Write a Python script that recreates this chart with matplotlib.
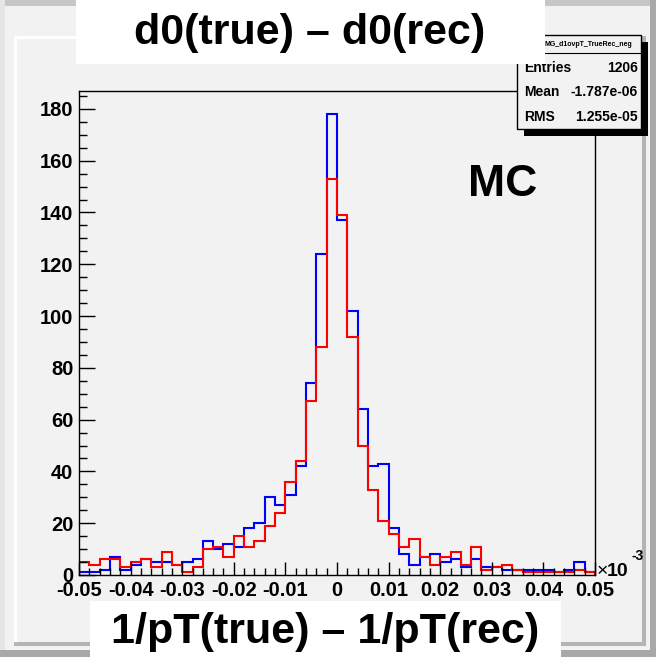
import numpy as np
import matplotlib
matplotlib.use('Agg')
import matplotlib.pyplot as plt
from matplotlib.patches import Rectangle

# Histogram contents (50 bins from -0.05 to 0.05, x10^-3)
bin_edges = np.linspace(-0.05, 0.05, 51)
mc_blue = [1, 1, 2, 7, 2, 4, 6, 5, 5, 4,
           5, 6, 13, 10, 12, 11, 18, 20, 30, 27,
           31, 42, 74, 124, 178, 137, 102, 64, 42, 43,
           18, 8, 4, 7, 8, 5, 6, 3, 6, 3,
           3, 2, 2, 2, 2, 2, 1, 2, 5, 1]
mc_red = [5, 4, 6, 6, 3, 5, 6, 3, 9, 4,
          1, 3, 10, 11, 7, 15, 11, 13, 19, 24,
          36, 44, 67, 88, 153, 139, 92, 50, 33, 21,
          16, 11, 14, 7, 4, 7, 9, 4, 11, 2,
          3, 4, 2, 1, 1, 1, 1, 1, 2, 1]

xticks = [-0.05, -0.04, -0.03, -0.02, -0.01, 0, 0.01, 0.02, 0.03, 0.04, 0.05]
xtick_labels = ['-0.05', '-0.04', '-0.03', '-0.02', '-0.01', '0',
                '0.01', '0.02', '0.03', '0.04', '0.05']
yticks = [0, 20, 40, 60, 80, 100, 120, 140, 160, 180]

stats_name = 'MG_d1ovpT_TrueRec_neg'
stats_rows = [('Entries', '1206'), ('Mean', '-1.787e-06'), ('RMS', '1.255e-05')]

plt.rcParams['font.family'] = ['Liberation Sans', 'DejaVu Sans']
plt.rcParams['font.weight'] = 'bold'

W, H = 656, 657
bg = '#f2f2f2'
fig = plt.figure(figsize=(W / 100, H / 100), dpi=100, facecolor=bg)


def px(x, y):
    # pixel coords (top-left origin) -> figure fraction
    return x / W, 1 - y / H


def rect(x0, y0, x1, y1, color, z=0, **kw):
    fx, fy = px(x0, y1)
    r = Rectangle((fx, fy), (x1 - x0) / W, (y1 - y0) / H, transform=fig.transFigure,
                  facecolor=color, edgecolor=kw.pop('ec', 'none'), zorder=z, **kw)
    fig.add_artist(r)
    return r


# canvas / pad bevels
rect(0, 0, W, 6, '#c6c6c6')
rect(0, 0, 5, H, '#e6e6e6')
rect(0, 650, W, H, '#a8a8a8')
rect(650, 0, W, H, '#a8a8a8')
rect(14, 36, 642, 39, 'white')
rect(14, 36, 17, 646, 'white')
rect(14, 642, 646, 646, '#b4b4b4')
rect(642, 36, 646, 646, '#b4b4b4')

# axes frame
left, right, top, bottom = 79, 595, 91, 575
ax = fig.add_axes([left / W, 1 - bottom / H, (right - left) / W, (bottom - top) / H])
ax.set_facecolor(bg)

ax.stairs(mc_blue, bin_edges, color='#0000ff', linewidth=1.5)
ax.stairs(mc_red, bin_edges, color='#ff0000', linewidth=1.5)

ax.set_xlim(-0.05, 0.05)
ax.set_ylim(0, 178 * 1.05)
ax.set_xticks(xticks)
ax.set_xticklabels(xtick_labels)
ax.set_xticks(np.linspace(-0.05, 0.05, 51), minor=True)
ax.set_yticks(yticks)
ax.set_yticks(np.arange(0, 186, 5), minor=True)
ax.tick_params(axis='x', which='major', direction='in', length=9.5, width=1, pad=4.5, labelsize=14.5)
ax.tick_params(axis='x', which='minor', direction='in', length=5, width=1)
ax.tick_params(axis='y', which='major', direction='in', length=11.5, width=1, pad=4, labelsize=14.5)
ax.tick_params(axis='y', which='minor', direction='in', length=5.5, width=1)
for lab in ax.get_xticklabels() + ax.get_yticklabels():
    lab.set_fontweight('bold')
for s in ax.spines.values():
    s.set_linewidth(1.0)

# x10^-3 exponent
fig.text(*px(597, 576), '\u00d7', fontsize=14, fontweight='normal', ha='left', va='baseline')
fig.text(*px(607, 576), '10', fontsize=14, fontweight='bold', ha='left', va='baseline')
fig.text(*px(631, 560), '-3', fontsize=10, fontweight='bold', ha='left', va='baseline')

fig.text(*px(503, 184), 'MC', fontsize=32, fontweight='bold', ha='center', va='center')

# stats box
rect(524, 42, 648, 136, 'black', z=3)
rect(517, 35, 641, 129, bg, z=4, ec='black', linewidth=1)
fig.add_artist(plt.Line2D([517 / W, 641 / W], [1 - 53 / H, 1 - 53 / H],
                          transform=fig.transFigure, color='black', linewidth=0.8, zorder=5))
fig.text(*px(588, 44), stats_name, fontsize=5, ha='center', va='center', zorder=6)
for i, (name, val) in enumerate(stats_rows):
    y = 68 + i * 24.5
    fig.text(*px(524, y), name, fontsize=10, fontweight='bold', ha='left', va='center', zorder=6)
    fig.text(*px(638, y), val, fontsize=10, fontweight='bold', ha='right', va='center', zorder=6)

# title boxes
rect(76, 0, 545, 64, 'white', z=7)
fig.text(*px(310, 33), 'd0(true) \u2013 d0(rec)', fontsize=31, fontweight='bold',
         ha='center', va='center', zorder=8)
rect(90, 601, 561, H, 'white', z=7)
fig.text(*px(325, 632), '1/pT(true) \u2013 1/pT(rec)', fontsize=31, fontweight='bold',
         ha='center', va='center', zorder=8)

fig.savefig('out.png', dpi=100, facecolor=bg)
